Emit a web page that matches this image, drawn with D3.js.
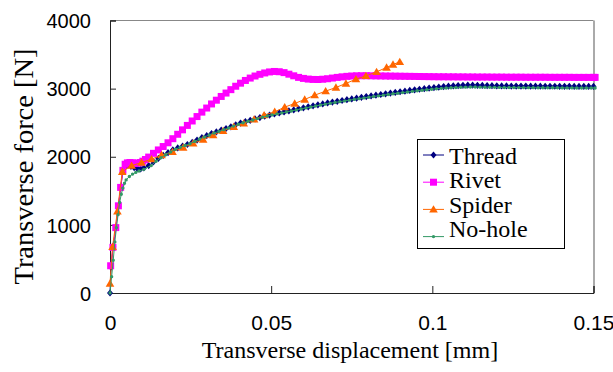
<!DOCTYPE html>
<html>
<head>
<meta charset="utf-8">
<script src="https://cdn.jsdelivr.net/npm/d3@7"></script>
<style>
  body { margin: 0; background: #fff; }
  svg { display: block; }
</style>
</head>
<body>
<div id="chart"></div>
<script>
// displacement [mm], force [N]
const thread = [
  [0,0],[0.0003,380],[0.001,680],[0.0018,960],[0.0026,1270],[0.0033,1540],[0.004,1790],[0.0048,1860],
  [0.0056,1880],[0.0065,1860],[0.0075,1840],[0.0085,1825],[0.0095,1820],[0.0105,1835],[0.012,1870],
  [0.0135,1925],[0.015,1975],[0.0165,2020],[0.018,2060],[0.0195,2100],[0.021,2130],[0.0225,2155],
  [0.024,2180],[0.0255,2210],[0.027,2245],[0.0285,2280],[0.03,2310],[0.0315,2340],[0.033,2365],
  [0.0345,2390],[0.036,2415],[0.0375,2440],[0.039,2470],[0.0405,2495],[0.042,2515],[0.0435,2535],
  [0.045,2555],[0.0465,2575],[0.048,2595],[0.0495,2612],[0.051,2628],[0.0525,2643],[0.054,2658],
  [0.0555,2672],[0.057,2688],[0.0585,2703],[0.06,2718],[0.0615,2733],[0.063,2748],[0.0645,2762],
  [0.066,2776],[0.0675,2790],[0.069,2802],[0.0705,2814],[0.072,2826],[0.0735,2838],[0.075,2849],
  [0.0765,2860],[0.078,2872],[0.0795,2883],[0.081,2893],[0.0825,2904],[0.084,2914],[0.0855,2924],
  [0.087,2934],[0.0885,2944],[0.09,2954],[0.0915,2963],[0.093,2973],[0.0945,2982],[0.096,2991],
  [0.0975,3000],[0.099,3008],[0.1005,3016],[0.102,3023],[0.1035,3030],[0.105,3036],[0.1065,3041],
  [0.108,3045],[0.1095,3048],[0.111,3050],[0.1125,3050],[0.114,3049],[0.1155,3047],[0.117,3045],
  [0.1185,3043],[0.12,3041],[0.1215,3040],[0.123,3039],[0.1245,3038],[0.126,3038],[0.1275,3037],
  [0.129,3037],[0.1305,3036],[0.132,3036],[0.1335,3036],[0.135,3035],[0.1365,3035],[0.138,3035],
  [0.1395,3034],[0.141,3034],[0.1425,3034],[0.144,3033],[0.1455,3033],[0.147,3033],[0.1485,3032],
  [0.15,3032]
];

const rivet = [
  [0.0002,400],[0.0009,670],[0.0018,960],[0.0026,1280],[0.0033,1550],[0.004,1800],[0.0047,1890],
  [0.0054,1910],[0.0062,1915],[0.007,1910],[0.0078,1905],[0.0086,1905],[0.0094,1915],[0.0102,1935],
  [0.011,1960],[0.012,1995],[0.0135,2050],[0.015,2100],[0.0165,2150],[0.018,2205],[0.0195,2265],
  [0.021,2330],[0.0225,2395],[0.024,2460],[0.0255,2525],[0.027,2590],[0.0285,2655],[0.03,2715],
  [0.0315,2775],[0.033,2830],[0.0345,2885],[0.036,2935],[0.0375,2985],[0.039,3035],[0.0405,3080],
  [0.042,3120],[0.0435,3155],[0.045,3185],[0.0465,3210],[0.048,3230],[0.0495,3245],[0.051,3252],
  [0.0525,3248],[0.054,3235],[0.0555,3212],[0.057,3188],[0.0585,3165],[0.06,3150],[0.0615,3140],
  [0.063,3135],[0.0645,3134],[0.066,3138],[0.0675,3145],[0.069,3155],[0.0705,3165],[0.072,3173],
  [0.0735,3180],[0.075,3185],[0.0765,3188],[0.078,3189],[0.0795,3189],[0.081,3188],[0.0825,3187],
  [0.084,3186],[0.0855,3185],[0.087,3184],[0.0885,3183],[0.09,3182],[0.0915,3181],[0.093,3180],
  [0.0945,3179],[0.096,3178],[0.0975,3177],[0.099,3176],[0.1005,3175],[0.102,3174],[0.1035,3174],
  [0.105,3173],[0.1065,3173],[0.108,3172],[0.1095,3172],[0.111,3171],[0.1125,3171],[0.114,3170],
  [0.1155,3170],[0.117,3170],[0.1185,3169],[0.12,3169],[0.1215,3169],[0.123,3168],[0.1245,3168],
  [0.126,3168],[0.1275,3168],[0.129,3167],[0.1305,3167],[0.132,3167],[0.1335,3167],[0.135,3167],
  [0.1365,3166],[0.138,3166],[0.1395,3166],[0.141,3166],[0.1425,3166],[0.144,3165],[0.1455,3165],
  [0.147,3165],[0.1485,3165],[0.15,3165],[0.1505,3165]
];

const spider = [
  [0,140],[0.0008,680],[0.0023,1200],[0.0038,1780],[0.0067,1870],[0.0098,1915],[0.0129,1965],
  [0.016,2025],[0.0194,2072],[0.0227,2135],[0.0258,2196],[0.0289,2254],[0.032,2317],[0.0351,2380],
  [0.0384,2440],[0.0415,2490],[0.0447,2548],[0.0478,2611],[0.0511,2660],[0.0542,2728],[0.0573,2782],
  [0.0604,2841],[0.0635,2904],[0.0669,2963],[0.0701,3017],[0.0732,3076],[0.0763,3139],[0.0794,3187],
  [0.0827,3246],[0.0858,3310],[0.0878,3354],[0.0899,3393]
];

const noHole = [
  [0,0],[0.0005,240],[0.001,480],[0.0015,750],[0.002,960],[0.0025,1150],[0.003,1330],[0.0035,1450],
  [0.004,1540],[0.0045,1610],[0.005,1660],[0.006,1710],[0.007,1745],[0.008,1770],[0.009,1790],
  [0.0105,1815],[0.0128,1870],[0.0143,1935],[0.0158,1985],[0.0173,2030],[0.0188,2070],[0.0203,2110],
  [0.0218,2140],[0.0233,2165],[0.0248,2190],[0.0263,2225],[0.0278,2260],[0.0293,2290],[0.0308,2320],
  [0.0323,2348],[0.0338,2373],[0.0353,2398],[0.0368,2423],[0.0383,2450],[0.0398,2478],[0.0413,2500],
  [0.0428,2520],[0.0443,2540],[0.0458,2560],[0.0473,2580],[0.0488,2598],[0.0503,2614],[0.0518,2629],
  [0.0533,2644],[0.0548,2658],[0.0563,2672],[0.0578,2688],[0.0593,2702],[0.0608,2717],[0.0623,2731],
  [0.0638,2745],[0.0653,2759],[0.0668,2772],[0.0683,2785],[0.0698,2797],[0.0713,2809],[0.0728,2820],
  [0.0743,2831],[0.0758,2842],[0.0773,2853],[0.0788,2864],[0.0803,2874],[0.0818,2884],[0.0833,2894],
  [0.0848,2904],[0.0863,2914],[0.0878,2924],[0.0893,2933],[0.0908,2942],[0.0923,2951],[0.0938,2960],
  [0.0953,2968],[0.0968,2976],[0.0983,2984],[0.0998,2991],[0.1013,2998],[0.1028,3004],[0.1043,3009],
  [0.1058,3013],[0.1073,3017],[0.1088,3020],[0.1103,3022],[0.1118,3023],[0.1133,3023],[0.1148,3022],
  [0.1163,3021],[0.1178,3020],[0.1193,3019],[0.1208,3018],[0.1223,3017],[0.1238,3016],[0.1253,3016],
  [0.1268,3015],[0.1283,3015],[0.1298,3014],[0.1313,3014],[0.1328,3013],[0.1343,3013],[0.1358,3012],
  [0.1373,3012],[0.1388,3012],[0.1403,3011],[0.1418,3011],[0.1433,3011],[0.1448,3010],[0.1463,3010],
  [0.1478,3010],[0.1493,3010],[0.1505,3010]
];

const seriesNames = ["Thread", "Rivet", "Spider", "No-hole"];
const xTicks = [0, 0.05, 0.1, 0.15];
const yTicks = [0, 1000, 2000, 3000, 4000];

const W = 613, H = 372;
const plot = { left: 110, right: 593.5, top: 20.5, bottom: 293 };

const svg = d3.select("#chart").append("svg")
  .attr("width", W).attr("height", H);
svg.append("rect").attr("width", W).attr("height", H).attr("fill", "#fff");

const x = d3.scaleLinear().domain([0, 0.15]).range([plot.left, plot.right]);
const y = d3.scaleLinear().domain([0, 4000]).range([plot.bottom, plot.top]);

// frame: grey top / right, dark axes
svg.append("line").attr("x1", plot.left).attr("x2", plot.right).attr("y1", plot.top).attr("y2", plot.top)
  .attr("stroke", "#888").attr("stroke-width", 1);
svg.append("line").attr("x1", plot.right + 0.5).attr("x2", plot.right + 0.5).attr("y1", plot.top).attr("y2", plot.bottom)
  .attr("stroke", "#aaa").attr("stroke-width", 2);

// Y axis
const yAxis = svg.append("g")
  .attr("transform", "translate(" + plot.left + ",0)")
  .call(d3.axisRight(y).tickValues(yTicks).tickSize(6).tickFormat(d3.format("d")));
yAxis.select(".domain").attr("stroke", "#222");
yAxis.selectAll(".tick line").attr("stroke", "#222");
yAxis.selectAll(".tick text")
  .attr("x", -19).attr("dy", "0.36em")
  .attr("text-anchor", "end")
  .style("font-family", "'Liberation Sans', Arial, sans-serif")
  .style("font-size", "20px").attr("fill", "#000");

// X axis
const xAxis = svg.append("g")
  .attr("transform", "translate(0," + plot.bottom + ")")
  .call(d3.axisTop(x).tickValues(xTicks).tickSize(7).tickFormat(d => d3.format("")(d)));
xAxis.select(".domain").attr("stroke", "#222");
xAxis.selectAll(".tick line").attr("stroke", "#222");
xAxis.selectAll(".tick text")
  .attr("y", 37).attr("dy", 0)
  .style("font-family", "'Liberation Sans', Arial, sans-serif")
  .style("font-size", "21px").attr("fill", "#000");

// axis titles
svg.append("text")
  .attr("x", 350).attr("y", 358)
  .attr("text-anchor", "middle")
  .style("font-family", "'Liberation Serif', 'Times New Roman', serif")
  .style("font-size", "24px")
  .text("Transverse displacement [mm]");

svg.append("text")
  .attr("transform", "translate(33,166.5) rotate(-90)")
  .attr("text-anchor", "middle")
  .attr("textLength", 236).attr("lengthAdjust", "spacingAndGlyphs")
  .style("font-family", "'Liberation Serif', 'Times New Roman', serif")
  .style("font-size", "28px")
  .text("Transverse force [N]");

// markers
const shapes = {
  diamond: "M0,-3.6L3,0L0,3.6L-3,0Z",
  square: "M-3.5,-3.5H3.5V3.5H-3.5Z",
  triangle: "M0,-4.2L4.3,3.2L-4.3,3.2Z",
  dot: "M-1.7,0A1.7,1.7 0 1,0 1.7,0A1.7,1.7 0 1,0 -1.7,0Z"
};

const series = [
  { name: seriesNames[0], data: thread, color: "#000080", shape: "diamond" },
  { name: seriesNames[1], data: rivet,  color: "#ff00ff", shape: "square" },
  { name: seriesNames[2], data: spider, color: "#ff6600", shape: "triangle" },
  { name: seriesNames[3], data: noHole, color: "#339966", shape: "dot" }
];

const line = d3.line().x(d => x(d[0])).y(d => y(d[1]));

series.forEach(s => {
  const g = svg.append("g");
  g.append("path").datum(s.data)
    .attr("d", line).attr("fill", "none")
    .attr("stroke", s.color).attr("stroke-width", 1);
  g.selectAll("path.m").data(s.data).enter().append("path")
    .attr("class", "m")
    .attr("transform", d => "translate(" + x(d[0]) + "," + y(d[1]) + ")")
    .attr("d", shapes[s.shape])
    .attr("fill", s.color);
});

// legend
const lg = svg.append("g");
lg.append("rect").attr("x", 417.5).attr("y", 139.5).attr("width", 147).attr("height", 109)
  .attr("fill", "#fff").attr("stroke", "#000").attr("stroke-width", 1);

series.forEach((s, i) => {
  const sy = 155 + i * 27.2;
  lg.append("line").attr("x1", 423).attr("x2", 444).attr("y1", sy).attr("y2", sy)
    .attr("stroke", s.color).attr("stroke-width", 1);
  lg.append("path").attr("transform", "translate(433.5," + sy + ")")
    .attr("d", shapes[s.shape]).attr("fill", s.color);
  lg.append("text")
    .attr("x", 449).attr("y", 164.3 + i * 24.1)
    .style("font-family", "'Liberation Serif', 'Times New Roman', serif")
    .style("font-size", "24px")
    .text(s.name);
});
</script>
</body>
</html>
